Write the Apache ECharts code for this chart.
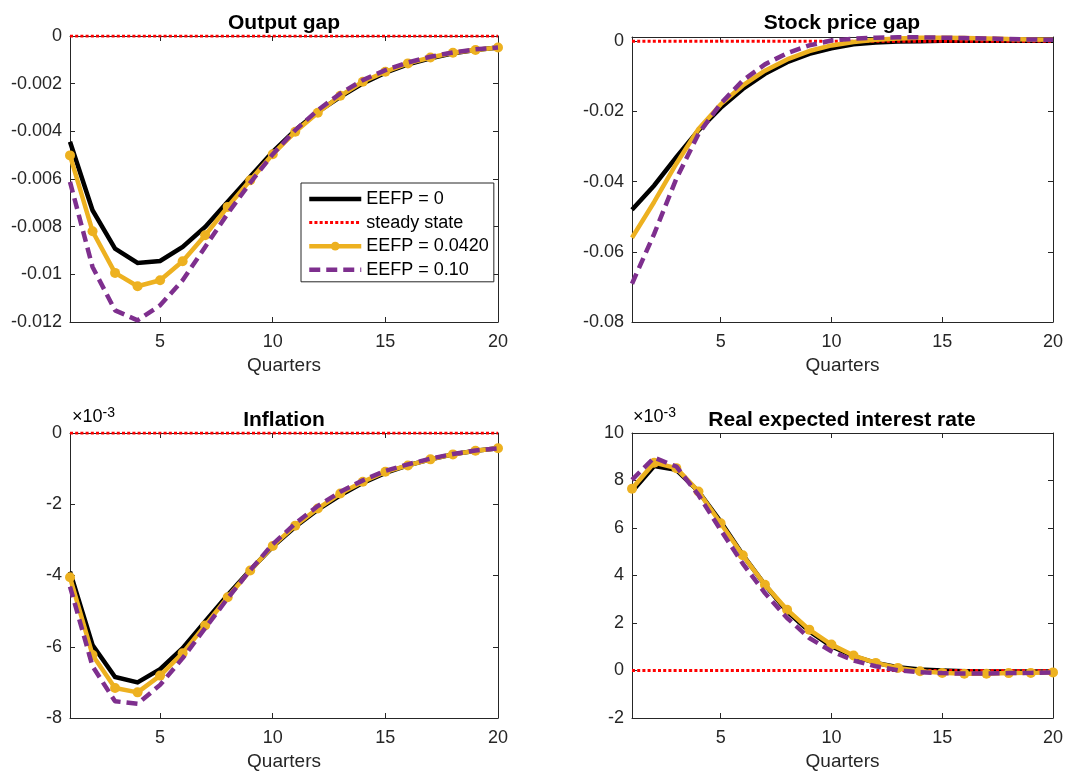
<!DOCTYPE html>
<html>
<head>
<meta charset="utf-8">
<script src="https://cdn.jsdelivr.net/npm/echarts@6/dist/echarts.min.js"></script>
<style>
html,body{margin:0;padding:0;background:#fff;}
#chart{width:1072px;height:772px;}
</style>
</head>
<body>
<div id="chart"></div>
<script>
// ---------- data ----------
var quarters = [1,2,3,4,5,6,7,8,9,10,11,12,13,14,15,16,17,18,19,20];
var seriesNames = ['EEFP = 0', 'steady state', 'EEFP = 0.0420', 'EEFP = 0.10'];
var steadyState = [0,0,0,0,0,0,0,0,0,0,0,0,0,0,0,0,0,0,0,0];

// Output gap
var outputGap0   = [-0.00444,-0.00731,-0.00892,-0.00952,-0.00944,-0.00885,-0.00801,-0.00696,-0.00591,-0.00486,-0.00395,-0.00318,-0.00255,-0.00199,-0.00154,-0.00119,-0.00094,-0.00073,-0.00059,-0.00048];
var outputGap042 = [-0.00501,-0.00819,-0.00994,-0.01050,-0.01025,-0.00945,-0.00836,-0.00717,-0.00605,-0.00496,-0.00402,-0.00322,-0.00251,-0.00192,-0.00150,-0.00115,-0.00090,-0.00070,-0.00059,-0.00048];
var outputGap10  = [-0.00612,-0.00969,-0.01151,-0.01193,-0.01130,-0.01025,-0.00885,-0.00745,-0.00616,-0.00496,-0.00395,-0.00311,-0.00241,-0.00185,-0.00143,-0.00111,-0.00087,-0.00069,-0.00056,-0.00048];

// Stock price gap
var stockGap0   = [-0.0480,-0.0411,-0.0330,-0.0254,-0.0190,-0.0136,-0.0093,-0.0060,-0.0036,-0.0020,-0.0009,-0.0004,-0.0001,0.0000,0.0001,0.0001,0.0001,0.0001,0.0001,0.0001];
var stockGap042 = [-0.0560,-0.0458,-0.0349,-0.0250,-0.0180,-0.0126,-0.0084,-0.0052,-0.0028,-0.0012,-0.0002,0.0004,0.0008,0.0010,0.0010,0.0009,0.0008,0.0006,0.0005,0.0004];
var stockGap10  = [-0.0691,-0.0549,-0.0392,-0.0264,-0.0178,-0.0112,-0.0066,-0.0034,-0.0012,0.0002,0.0007,0.0010,0.0011,0.0011,0.0010,0.0009,0.0008,0.0006,0.0005,0.0004];

// Inflation (x 10^-3)
var inflation0   = [-3.89,-5.95,-6.85,-7.00,-6.63,-6.04,-5.29,-4.55,-3.85,-3.19,-2.63,-2.15,-1.75,-1.40,-1.12,-0.91,-0.74,-0.60,-0.50,-0.43];
var inflation042 = [-4.05,-6.23,-7.16,-7.28,-6.81,-6.18,-5.40,-4.61,-3.86,-3.17,-2.60,-2.12,-1.70,-1.37,-1.09,-0.91,-0.74,-0.60,-0.50,-0.43];
var inflation10  = [-4.31,-6.55,-7.53,-7.60,-7.07,-6.32,-5.48,-4.64,-3.85,-3.12,-2.54,-2.05,-1.65,-1.33,-1.06,-0.88,-0.72,-0.59,-0.49,-0.43];

// Real expected interest rate (x 10^-3)
var realRate0   = [7.54,8.61,8.45,7.54,6.27,4.87,3.61,2.49,1.65,1.02,0.60,0.32,0.14,0.04,0.00,-0.03,-0.04,-0.04,-0.04,-0.04];
var realRate042 = [7.65,8.75,8.52,7.54,6.20,4.85,3.61,2.56,1.72,1.09,0.63,0.32,0.11,-0.03,-0.10,-0.14,-0.14,-0.11,-0.10,-0.08];
var realRate10  = [8.03,8.96,8.59,7.39,5.92,4.50,3.26,2.21,1.37,0.81,0.42,0.18,0.01,-0.07,-0.11,-0.13,-0.13,-0.11,-0.10,-0.08];

// titles and ticks
var panelTitles = ['Output gap', 'Stock price gap', 'Inflation', 'Real expected interest rate'];
var xTicks = [5, 10, 15, 20];
var yTicksOutput = [-0.012, -0.01, -0.008, -0.006, -0.004, -0.002, 0];
var yTicksStock = [-0.08, -0.06, -0.04, -0.02, 0];
var yTicksInflation = [-8, -6, -4, -2, 0];
var yTicksRate = [-2, 0, 2, 4, 6, 8, 10];
var xLabel = 'Quarters';

// ---------- chart ----------
var FONT = '"Liberation Sans", Arial, Helvetica, sans-serif';
var AXC = '#262626';
var grids = [
  {left: 70,  top: 36,  width: 428, height: 286},
  {left: 632, top: 37,  width: 421, height: 285},
  {left: 70,  top: 433, width: 428, height: 285},
  {left: 632, top: 433, width: 421, height: 285}
];
var yRanges = [
  {min: -0.012, max: 0, ticks: yTicksOutput},
  {min: -0.08, max: 0.0012, ticks: yTicksStock},
  {min: -8, max: 0, ticks: yTicksInflation},
  {min: -2, max: 10, ticks: yTicksRate}
];
var panelData = [
  [outputGap0, outputGap042, outputGap10],
  [stockGap0, stockGap042, stockGap10],
  [inflation0, inflation042, inflation10],
  [realRate0, realRate042, realRate10]
];
var showMarkers = [true, false, true, true];

function pairs(vals) { return quarters.map(function (q, i) { return [q, vals[i]]; }); }

var lineCols = ['#000000', '#FF0000', '#EDB120', '#7E2F8E'];
var lineWidths = [4.5, 3, 4.5, 4.5];
var lineTypes = ['solid', [3, 2.2], 'solid', [11, 6]];

var xAxes = [], yAxes = [], series = [];
grids.forEach(function (g, i) {
  xAxes.push({
    type: 'value', gridIndex: i, min: 1, max: 20, position: 'bottom',
    name: xLabel, nameLocation: 'middle', nameGap: 34,
    nameTextStyle: {fontFamily: FONT, fontSize: 19, color: AXC},
    axisLine: {show: true, onZero: false, lineStyle: {color: AXC, width: 1}},
    axisTick: {show: true, inside: true, length: 5, customValues: xTicks, lineStyle: {color: AXC}},
    axisLabel: {show: true, customValues: xTicks, margin: 11, fontFamily: FONT, fontSize: 18, color: AXC},
    splitLine: {show: false}
  });
  xAxes.push({
    type: 'value', gridIndex: i, min: 1, max: 20, position: 'top',
    axisLine: {show: true, onZero: false, lineStyle: {color: AXC, width: 1}},
    axisTick: {show: true, inside: true, length: 5, customValues: xTicks, lineStyle: {color: AXC}},
    axisLabel: {show: false},
    splitLine: {show: false}
  });
  var yr = yRanges[i];
  yAxes.push({
    type: 'value', gridIndex: i, min: yr.min, max: yr.max, position: 'left',
    axisLine: {show: true, onZero: false, lineStyle: {color: AXC, width: 1}},
    axisTick: {show: true, inside: true, length: 5, customValues: yr.ticks, lineStyle: {color: AXC}},
    axisLabel: {show: true, customValues: yr.ticks, margin: 8, fontFamily: FONT, fontSize: 18, color: AXC},
    splitLine: {show: false}
  });
  yAxes.push({
    type: 'value', gridIndex: i, min: yr.min, max: yr.max, position: 'right',
    axisLine: {show: true, onZero: false, lineStyle: {color: AXC, width: 1}},
    axisTick: {show: true, inside: true, length: 5, customValues: yr.ticks, lineStyle: {color: AXC}},
    axisLabel: {show: false},
    splitLine: {show: false}
  });

  var d = panelData[i];
  var xi = i * 2, yi = i * 2;
  series.push({
    name: seriesNames[0], type: 'line', xAxisIndex: xi, yAxisIndex: yi,
    data: pairs(d[0]), symbol: 'none', z: 2,
    lineStyle: {color: lineCols[0], width: lineWidths[0], cap: 'butt', join: 'miter'},
    itemStyle: {color: lineCols[0]}
  });
  series.push({
    name: seriesNames[1], type: 'line', xAxisIndex: xi, yAxisIndex: yi,
    data: pairs(steadyState), symbol: 'none', z: 3,
    lineStyle: {color: lineCols[1], width: lineWidths[1], type: lineTypes[1], cap: 'butt'},
    itemStyle: {color: lineCols[1]}
  });
  series.push({
    name: seriesNames[2], type: 'line', xAxisIndex: xi, yAxisIndex: yi,
    data: pairs(d[1]), symbol: 'circle', symbolSize: 10, showSymbol: showMarkers[i], z: 4,
    lineStyle: {color: lineCols[2], width: lineWidths[2], cap: 'butt'},
    itemStyle: {color: lineCols[2]}
  });
  series.push({
    name: seriesNames[3], type: 'line', xAxisIndex: xi, yAxisIndex: yi,
    data: pairs(d[2]), symbol: 'none', z: 5,
    lineStyle: {color: lineCols[3], width: lineWidths[3], type: lineTypes[3], cap: 'butt'},
    itemStyle: {color: lineCols[3]}
  });
});

var titleCenters = [[284, 13], [842, 13], [284, 410], [842, 410]];
var titles = panelTitles.map(function (t, i) {
  return {
    text: t, left: titleCenters[i][0], top: titleCenters[i][1], textAlign: 'center', padding: 0,
    textStyle: {fontFamily: FONT, fontSize: 21, fontWeight: 'bold', color: '#000'}
  };
});

var expRich = {
  a: {fontFamily: FONT, fontSize: 18, color: AXC},
  b: {fontFamily: FONT, fontSize: 14, color: AXC, verticalAlign: 'top', padding: [0, 0, 9, 0]}
};

var legendData = seriesNames.map(function (n, k) {
  return {
    name: n,
    itemStyle: {color: lineCols[k], opacity: k === 2 ? 1 : 0},
    lineStyle: {color: lineCols[k], width: lineWidths[k], type: lineTypes[k], opacity: 1}
  };
});

var chart = echarts.init(document.getElementById('chart'), null, {renderer: 'canvas'});
chart.setOption({
  animation: false,
  backgroundColor: '#ffffff',
  title: titles,
  grid: grids.map(function (g) { return Object.assign({containLabel: false}, g); }),
  xAxis: xAxes,
  yAxis: yAxes,
  legend: {
    data: legendData,
    orient: 'vertical', left: 301, top: 183,
    padding: [7, 5, 3, 6], itemGap: 5.6, itemWidth: 52, itemHeight: 11,
    backgroundColor: '#ffffff', borderColor: AXC, borderWidth: 1,
    textStyle: {fontFamily: FONT, fontSize: 18, color: '#000', lineHeight: 17},
    selectedMode: false
  },
  graphic: [
    {type: 'text', left: 72, top: 406, z: 10, style: {text: '{a|×10}{b|-3}', rich: expRich}},
    {type: 'text', left: 633, top: 406, z: 10, style: {text: '{a|×10}{b|-3}', rich: expRich}}
  ],
  series: series
});
</script>
</body>
</html>
